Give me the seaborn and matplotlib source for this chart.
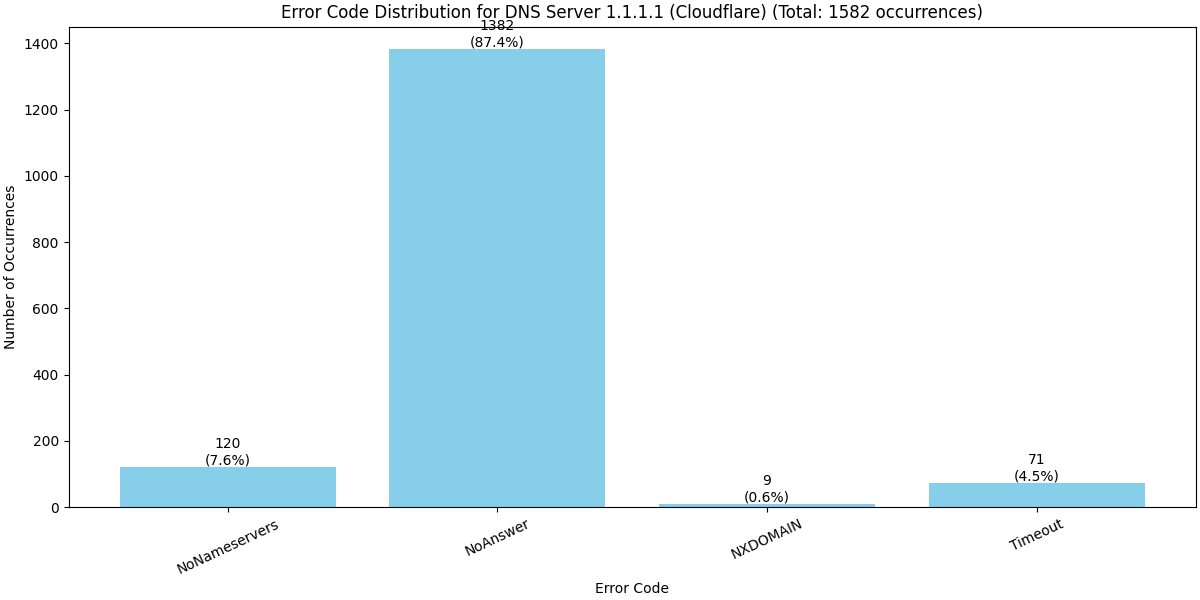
import matplotlib
matplotlib.use('Agg')
import matplotlib.pyplot as plt
import seaborn as sns
import pandas as pd

error_codes = ['NoNameservers', 'NoAnswer', 'NXDOMAIN', 'Timeout']
counts = [120, 1382, 9, 71]
server = '1.1.1.1 (Cloudflare)'

df = pd.DataFrame({'code': error_codes, 'count': counts})
total = sum(counts)

fig, ax = plt.subplots(figsize=(12, 6), dpi=100)
sns.barplot(data=df, x='code', y='count', color='skyblue', saturation=1, width=0.8, ax=ax)
# Restore matplotlib's default x margins around the bars.
ax.set_xlim(-0.59, len(counts) - 1 + 0.59)

# Annotate bars with count and share.
for i, v in enumerate(counts):
    ax.text(i, v, f'{v}\n({v / total * 100:.1f}%)', ha='center', va='bottom', fontsize=10)

ax.set_title(f'Error Code Distribution for DNS Server {server} (Total: {total} occurrences)', fontsize=12)
ax.set_xlabel('Error Code')
ax.set_ylabel('Number of Occurrences')
plt.setp(ax.get_xticklabels(), rotation=25)
plt.tight_layout(pad=0.3)
plt.savefig('out.png')
